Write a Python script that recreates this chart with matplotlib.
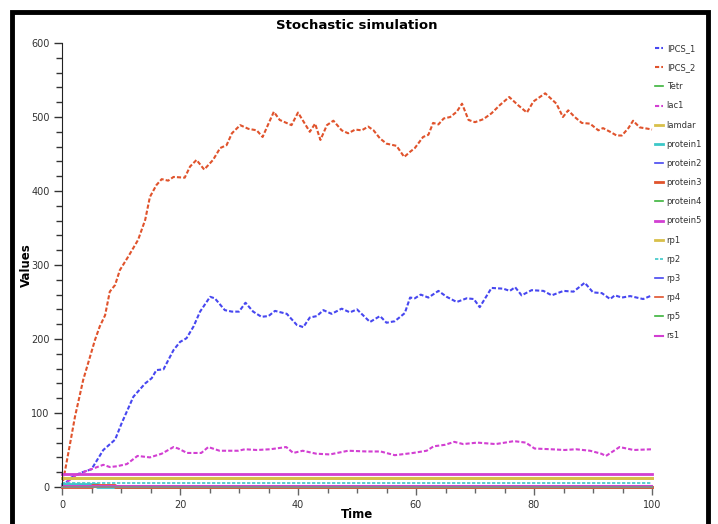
import matplotlib
matplotlib.use("Agg")
import matplotlib.pyplot as plt
from matplotlib.patches import Rectangle
from matplotlib.ticker import MultipleLocator

# ---- data ----
series_names = ["IPCS_1", "IPCS_2", "Tetr", "lac1", "lamdar", "protein1", "protein2",
                "protein3", "protein4", "protein5", "rp1", "rp2", "rp3", "rp4", "rp5", "rs1"]
series_colors = ["#4747f0", "#e0532c", "#3cb43c", "#d23fd2", "#d8c04a", "#3cc8c8",
                 "#4747f0", "#e0532c", "#3cb43c", "#d23fd2", "#d8c04a", "#3cc8c8",
                 "#4747f0", "#e0532c", "#3cb43c", "#d23fd2"]

ipcs2_t = [0, 1.4, 2.2, 3.6, 5.6, 6.4, 7.3, 8.1, 9.0, 9.8, 11.2, 12.9, 14.1, 14.9, 16.0, 16.9,
           18.0, 18.9, 20.8, 21.7, 22.8, 24.1, 25.6, 26.8, 27.9, 28.8, 30.2, 31.6, 33.0, 34.0,
           35.0, 35.9, 36.9, 38.9, 40.0, 42.0, 42.9, 43.8, 44.9, 46.0, 47.4, 48.5, 49.7, 50.8,
           51.9, 52.8, 53.9, 55.0, 56.7, 58.0, 59.0, 59.8, 61.2, 62.1, 62.9, 63.8, 64.7, 65.8,
           66.9, 67.8, 68.9, 70.0, 71.4, 72.8, 74.2, 75.8, 77.3, 78.8, 79.9, 81.9, 83.8, 84.9,
           85.8, 86.9, 88.1, 89.5, 90.9, 91.7, 92.9, 94.0, 94.9, 96.0, 96.8, 97.9, 99.4, 100]
ipcs2_v = [0, 60, 95, 145, 199, 217, 232, 264, 273, 293, 311, 334, 361, 392, 408, 416,
           414, 419, 418, 433, 442, 429, 442, 458, 462, 478, 489, 484, 482, 473,
           491, 507, 496, 489, 506, 480, 491, 469, 489, 495, 482, 478, 483, 482,
           487, 482, 471, 464, 461, 446, 453, 458, 473, 476, 492, 490, 498, 500,
           507, 518, 496, 493, 497, 505, 516, 527, 516, 506, 521, 532, 518, 500,
           509, 500, 492, 491, 482, 485, 480, 475, 475, 485, 495, 486, 484, 483]

ipcs1_t = [0, 1.4, 3.1, 5.0, 7.0, 9.0, 10.1, 12.1, 14.1, 15.2, 16.0, 17.2, 18.9, 20.0, 21.1,
           22.3, 23.4, 25.1, 25.9, 27.6, 28.8, 30.0, 31.1, 32.4, 33.8, 35.0, 36.1, 38.1, 39.8,
           40.9, 42.0, 43.2, 44.3, 45.7, 47.4, 48.8, 50.0, 52.2, 53.9, 55.0, 56.4, 58.1, 59.0,
           59.8, 60.8, 62.1, 63.8, 65.2, 66.9, 68.6, 69.8, 70.8, 72.8, 74.8, 75.9, 76.8, 77.9,
           79.6, 81.6, 83.0, 85.0, 86.7, 88.6, 90.0, 91.5, 92.9, 93.7, 94.9, 96.3, 98.5, 100]
ipcs1_v = [0, 12, 19, 24, 50, 64, 86, 122, 140, 147, 158, 159, 185, 196, 201,
           217, 237, 257, 255, 239, 237, 237, 249, 237, 230, 231, 238, 234, 219,
           216, 229, 231, 239, 234, 241, 236, 240, 223, 231, 222, 224, 235, 256,
           255, 260, 256, 265, 257, 250, 255, 254, 243, 269, 268, 265, 270, 259,
           266, 265, 259, 265, 264, 276, 263, 262, 254, 259, 256, 258, 254, 259]

lac1_t = [0, 2.5, 3.9, 5.3, 7.0, 8.1, 9.3, 11.0, 12.8, 14.9, 16.9, 18.9, 19.7, 21.2, 23.6,
          24.8, 26.7, 29.9, 31.0, 33.0, 35.3, 38.0, 39.2, 40.8, 43.1, 45.4, 48.5, 51.7, 54.0,
          56.4, 59.5, 61.8, 63.0, 64.9, 66.5, 68.0, 70.4, 73.5, 75.1, 76.6, 78.6, 80.1, 82.9,
          85.2, 87.1, 89.5, 91.4, 92.2, 94.5, 96.9, 100]
lac1_v = [2, 16, 21, 25, 30, 27, 28, 31, 42, 40, 45, 54, 52, 46, 46,
          54, 49, 49, 51, 50, 51, 54, 46, 49, 45, 44, 49, 48, 48,
          43, 46, 49, 55, 57, 61, 58, 60, 58, 60, 62, 60, 52, 51,
          50, 51, 49, 45, 42, 54, 50, 51]

const_t = [0, 100]
tetr_v = [0, 0]
lamdar_v = [12, 12]
protein1_t = [0, 6, 6, 100]
protein1_v = [4, 4, 0, 0]
protein2_v = [0, 0]
protein3_t = [0, 5, 5, 9, 9, 100]
protein3_v = [0, 0, 3, 3, 0, 0]
protein4_v = [0, 0]
protein5_v = [18, 18]
rp1_v = [12, 12]
rp2_v = [6, 6]
rp3_v = [0, 0]
rp4_v = [0, 0]
rp5_v = [0, 0]
rs1_v = [2, 2]

x_ticks = [0, 20, 40, 60, 80, 100]
y_ticks = [0, 100, 200, 300, 400, 500, 600]

# ---- figure ----
fig = plt.figure(figsize=(7.18, 5.24), dpi=100)
fig.patches.append(Rectangle((12 / 718, -0.05), (708 - 12) / 718, 1.05 - 12 / 524,
                             transform=fig.transFigure, fill=False, edgecolor="black",
                             linewidth=3.5, zorder=10))
ax = fig.add_axes([62 / 718, 1 - 487 / 524, (652 - 62) / 718, (487 - 43) / 524])

dot = (0, (2, 1))
data = {
    "IPCS_1": (ipcs1_t, ipcs1_v, dot, 1.5),
    "IPCS_2": (ipcs2_t, ipcs2_v, dot, 1.5),
    "Tetr": (const_t, tetr_v, "-", 1.2),
    "lac1": (lac1_t, lac1_v, dot, 1.5),
    "lamdar": (const_t, lamdar_v, "-", 2.0),
    "protein1": (protein1_t, protein1_v, "-", 2.0),
    "protein2": (const_t, protein2_v, "-", 1.2),
    "protein3": (protein3_t, protein3_v, "-", 2.0),
    "protein4": (const_t, protein4_v, "-", 1.2),
    "protein5": (const_t, protein5_v, "-", 2.0),
    "rp1": (const_t, rp1_v, "-", 2.0),
    "rp2": (const_t, rp2_v, dot, 1.2),
    "rp3": (const_t, rp3_v, "-", 1.2),
    "rp4": (const_t, rp4_v, "-", 1.2),
    "rp5": (const_t, rp5_v, "-", 1.2),
    "rs1": (const_t, rs1_v, "-", 1.5),
}
for name, color in zip(series_names, series_colors):
    t, v, ls, lw = data[name]
    ax.plot(t, v, color=color, linestyle=ls, linewidth=lw, label=name, clip_on=False)

ax.set_xlim(0, 100)
ax.set_ylim(0, 600)
ax.set_xticks(x_ticks)
ax.set_yticks(y_ticks)
ax.xaxis.set_minor_locator(MultipleLocator(5))
ax.yaxis.set_minor_locator(MultipleLocator(20))
for s in ["top", "right"]:
    ax.spines[s].set_visible(False)
ax.spines["left"].set_color("#222222")
ax.spines["bottom"].set_color("#888888")
ax.spines["bottom"].set_linewidth(1.5)
ax.tick_params(axis="both", which="major", labelsize=7, colors="#333333", length=6, width=1)
ax.tick_params(axis="both", which="minor", colors="#333333", length=4, width=1)
ax.tick_params(axis="x", which="both", color="#666666")
ax.tick_params(axis="x", which="major", pad=3)
ax.tick_params(axis="y", which="major", pad=3)

ax.set_xlabel("Time", fontsize=8.5, fontweight="bold")
ax.xaxis.set_label_coords(0.5, -(515 - 487) / 444, transform=ax.transAxes)
ax.xaxis.label.set_va("center")
ax.set_ylabel("Values", fontsize=8.5, fontweight="bold")
ax.yaxis.set_label_coords(-(62 - 26) / 590, 0.5, transform=ax.transAxes)
ax.yaxis.label.set_va("center")
ax.set_title("Stochastic simulation", fontsize=9.5, fontweight="bold", pad=10)

leg = ax.legend(loc="upper left", bbox_to_anchor=(655 / 718, 1 - 44 / 524),
                bbox_transform=fig.transFigure, frameon=False, fontsize=6,
                handlelength=1.0, handletextpad=0.4, labelspacing=1.22,
                borderaxespad=0, borderpad=0)
for txt in leg.get_texts():
    txt.set_color("#333333")

fig.savefig("out.png", dpi=100)
